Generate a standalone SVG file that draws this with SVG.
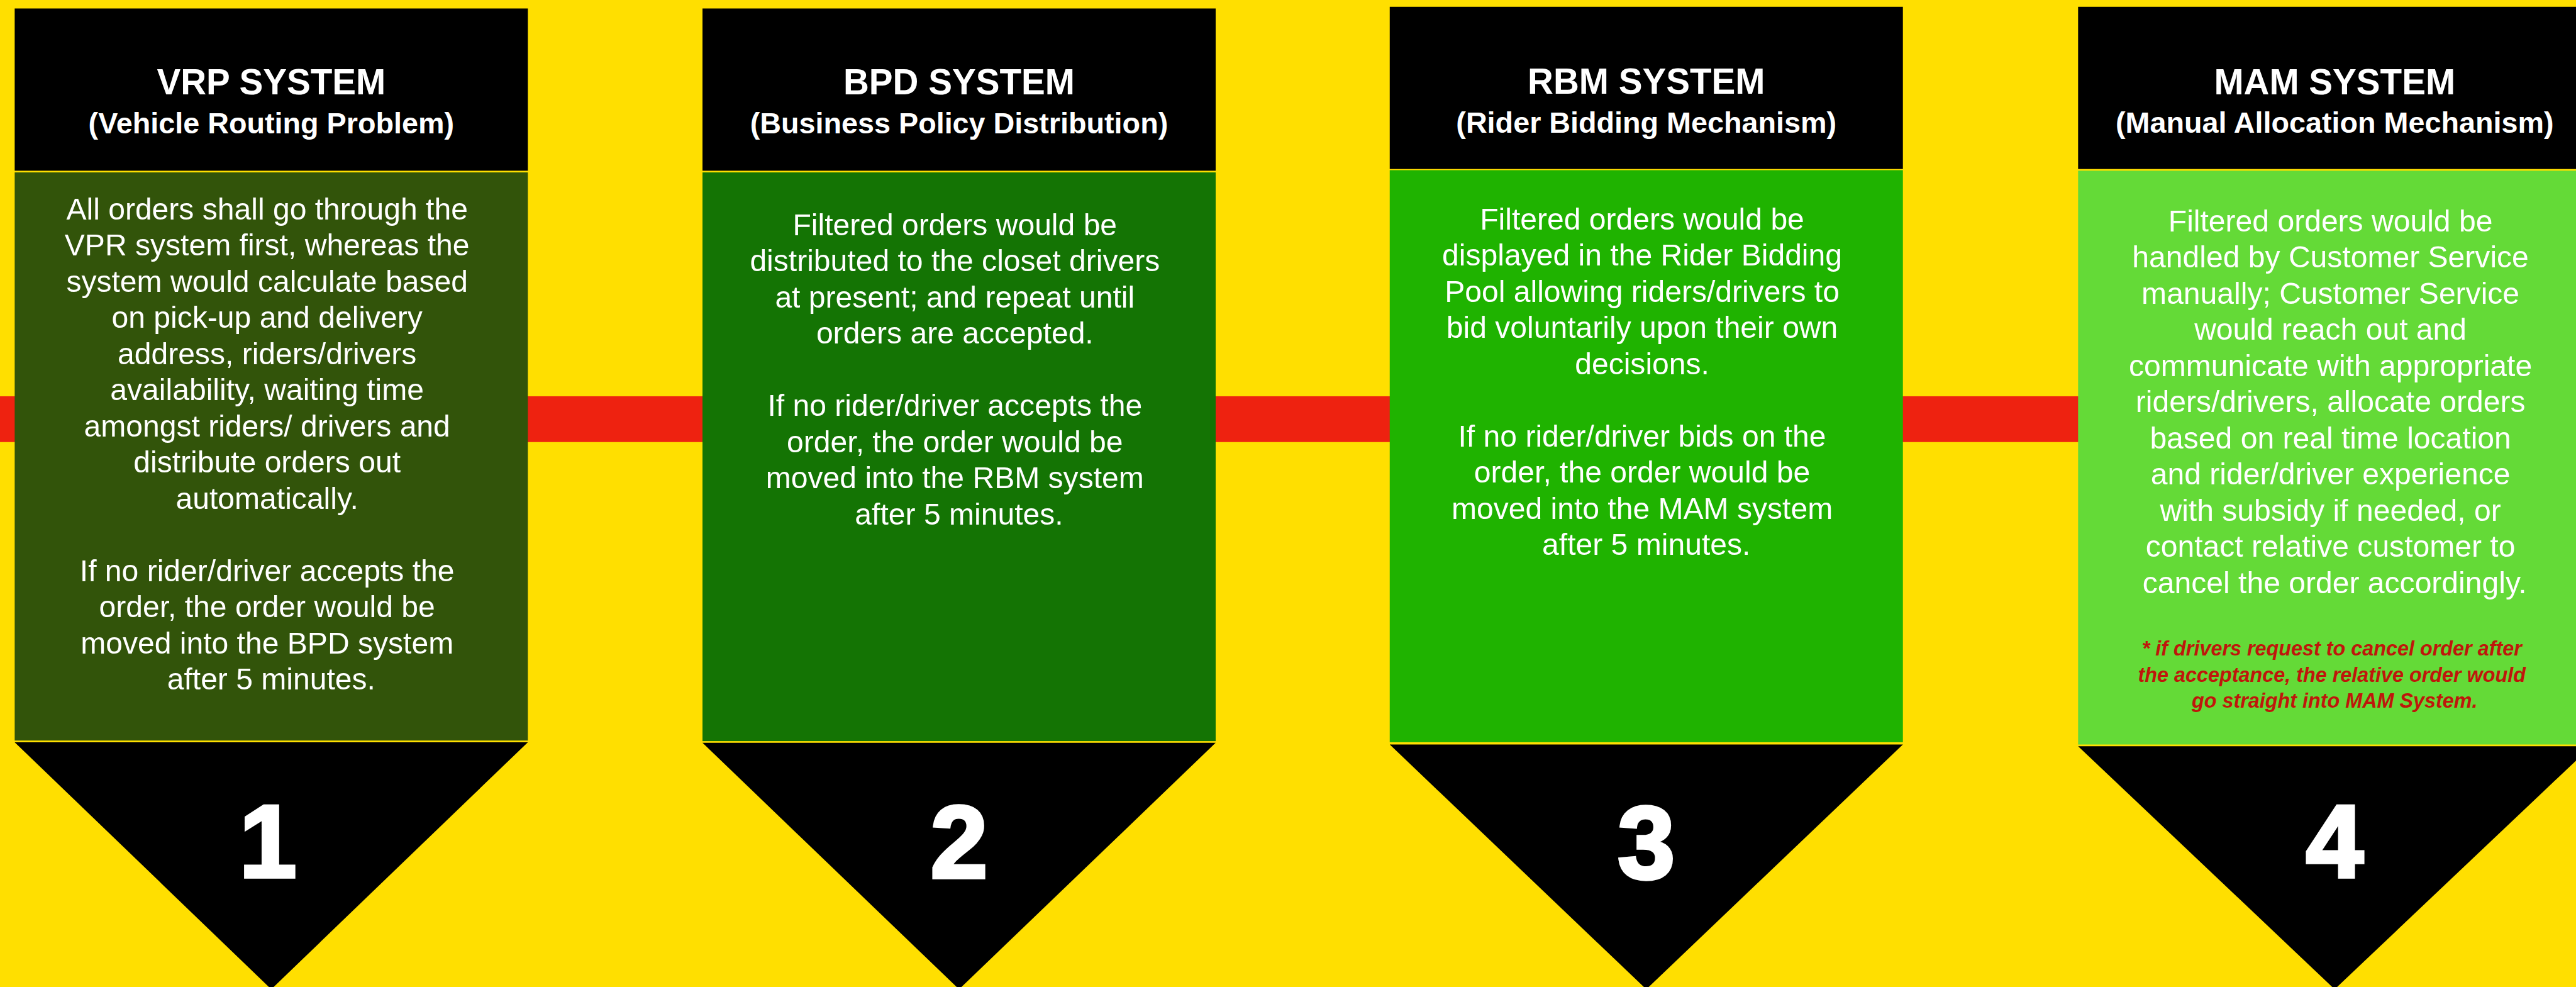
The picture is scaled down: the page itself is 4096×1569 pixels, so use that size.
<svg xmlns="http://www.w3.org/2000/svg" width="4096" height="1569" viewBox="0 0 4096 1569">
  <style>
    .hdr { fill: #000000; }
    .tri { fill: #000000; }
    .title { font-family: "Liberation Sans", Arial, sans-serif; font-weight: bold; font-size: 63px; fill: #ffffff; text-anchor: middle; }
    .sub { font-family: "Liberation Sans", Arial, sans-serif; font-weight: bold; font-size: 52px; fill: #ffffff; text-anchor: middle; }
    .body { font-family: "Liberation Sans", Arial, sans-serif; font-size: 53.5px; fill: #ffffff; text-anchor: middle; }
    .num { font-family: "Liberation Sans", Arial, sans-serif; font-weight: bold; font-size: 182px; fill: #ffffff; stroke: #ffffff; stroke-width: 6px; stroke-linejoin: miter; text-anchor: middle; }
    .note { font-family: "Liberation Sans", Arial, sans-serif; font-weight: bold; font-style: italic; font-size: 36px; fill: #bf160b; text-anchor: middle; }
  </style>
  <rect x="0" y="0" width="4096" height="1569" fill="#ffdf00"/>
  <g transform="scale(0.89864)">
    <!-- band linking the four stages -->
    <g id="connectors">
      <rect x="0" y="701" width="4560" height="81" fill="#ee2210"/>
    </g>

    <!-- stage 1 -->
    <g id="vrp">
      <rect class="hdr" x="26" y="15" width="908" height="287"/>
      <rect x="26" y="305" width="908" height="1005" fill="#32540a"/>
      <polygon class="tri" points="26,1313 934,1313 480,1750"/>
      <text class="title" x="480" y="167">VRP SYSTEM</text>
      <text class="sub" x="480" y="236">(Vehicle Routing Problem)</text>
      <text class="body">
        <tspan x="480" y="388">All orders shall go through the</tspan>
        <tspan x="480" y="452">VPR system first, whereas the</tspan>
        <tspan x="480" y="516">system would calculate based</tspan>
        <tspan x="480" y="580">on pick-up and delivery</tspan>
        <tspan x="480" y="644">address, riders/drivers</tspan>
        <tspan x="480" y="708">availability, waiting time</tspan>
        <tspan x="480" y="772">amongst riders/ drivers and</tspan>
        <tspan x="480" y="836">distribute orders out</tspan>
        <tspan x="480" y="900">automatically.</tspan>
        <tspan x="480" y="1028">If no rider/driver accepts the</tspan>
        <tspan x="480" y="1092">order, the order would be</tspan>
        <tspan x="480" y="1156">moved into the BPD system</tspan>
        <tspan x="480" y="1220">after 5 minutes.</tspan>
      </text>
      <text class="num" x="474" y="1551">1</text>
    </g>

    <!-- stage 2 -->
    <g id="bpd">
      <rect class="hdr" x="1243" y="15" width="908" height="287"/>
      <rect x="1243" y="305" width="908" height="1006" fill="#147404"/>
      <polygon class="tri" points="1243,1314 2151,1314 1697,1750"/>
      <text class="title" x="1697" y="167">BPD SYSTEM</text>
      <text class="sub" x="1697" y="236">(Business Policy Distribution)</text>
      <text class="body">
        <tspan x="1697" y="416">Filtered orders would be</tspan>
        <tspan x="1697" y="480">distributed to the closet drivers</tspan>
        <tspan x="1697" y="544">at present; and repeat until</tspan>
        <tspan x="1697" y="608">orders are accepted.</tspan>
        <tspan x="1697" y="736">If no rider/driver accepts the</tspan>
        <tspan x="1697" y="800">order, the order would be</tspan>
        <tspan x="1697" y="864">moved into the RBM system</tspan>
        <tspan x="1697" y="928">after 5 minutes.</tspan>
      </text>
      <text class="num" x="1697" y="1552">2</text>
    </g>

    <!-- stage 3 -->
    <g id="rbm">
      <rect class="hdr" x="2459" y="12" width="908" height="287"/>
      <rect x="2459" y="301" width="908" height="1012" fill="#1fb300"/>
      <polygon class="tri" points="2459,1317 3367,1317 2913,1750"/>
      <text class="title" x="2913" y="166">RBM SYSTEM</text>
      <text class="sub" x="2913" y="235">(Rider Bidding Mechanism)</text>
      <text class="body">
        <tspan x="2913" y="406">Filtered orders would be</tspan>
        <tspan x="2913" y="470">displayed in the Rider Bidding</tspan>
        <tspan x="2913" y="534">Pool allowing riders/drivers to</tspan>
        <tspan x="2913" y="598">bid voluntarily upon their own</tspan>
        <tspan x="2913" y="662">decisions.</tspan>
        <tspan x="2913" y="790">If no rider/driver bids on the</tspan>
        <tspan x="2913" y="854">order, the order would be</tspan>
        <tspan x="2913" y="918">moved into the MAM system</tspan>
        <tspan x="2913" y="982">after 5 minutes.</tspan>
      </text>
      <text class="num" x="2913" y="1554">3</text>
    </g>

    <!-- stage 4 -->
    <g id="mam">
      <rect class="hdr" x="3677" y="12" width="908" height="287"/>
      <rect x="3677" y="302" width="908" height="1015" fill="#64da37"/>
      <polygon class="tri" points="3677,1320 4585,1320 4131,1750"/>
      <text class="title" x="4131" y="167">MAM SYSTEM</text>
      <text class="sub" x="4131" y="235">(Manual Allocation Mechanism)</text>
      <text class="body">
        <tspan x="4131" y="409">Filtered orders would be</tspan>
        <tspan x="4131" y="473">handled by Customer Service</tspan>
        <tspan x="4131" y="537">manually; Customer Service</tspan>
        <tspan x="4131" y="601">would reach out and</tspan>
        <tspan x="4131" y="665">communicate with appropriate</tspan>
        <tspan x="4131" y="729">riders/drivers, allocate orders</tspan>
        <tspan x="4131" y="793">based on real time location</tspan>
        <tspan x="4131" y="857">and rider/driver experience</tspan>
        <tspan x="4131" y="921">with subsidy if needed, or</tspan>
        <tspan x="4131" y="985">contact relative customer to</tspan>
        <tspan x="4131" y="1049">cancel the order accordingly.</tspan>
      </text>
      <text class="note">
        <tspan x="4131" y="1160">* if drivers request to cancel order after</tspan>
        <tspan x="4131" y="1206">the acceptance, the relative order would</tspan>
        <tspan x="4131" y="1252">go straight into MAM System.</tspan>
      </text>
      <text class="num" x="4131" y="1551">4</text>
    </g>
  </g>
</svg>
